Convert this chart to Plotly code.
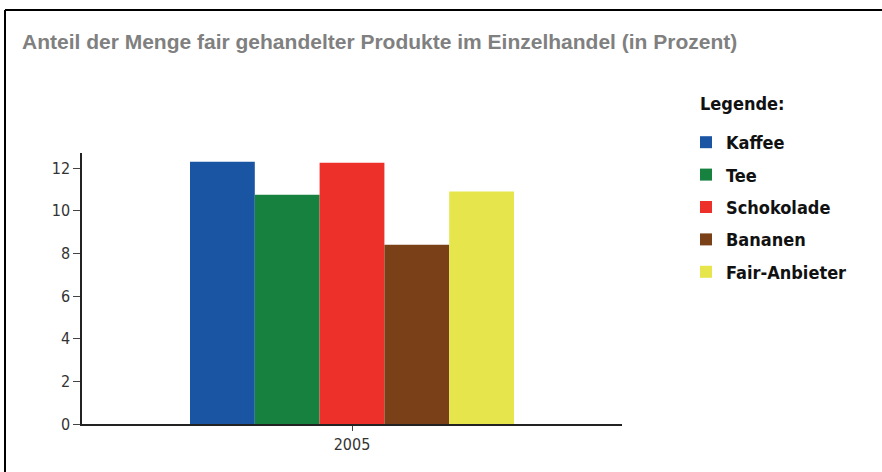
import plotly.graph_objects as go

categories = ["2005"]
series_names = ["Kaffee", "Tee", "Schokolade", "Bananen", "Fair-Anbieter"]
series_values = [[12.3], [10.75], [12.25], [8.4], [10.9]]
series_colors = ["#1A55A4", "#178240", "#EE302A", "#7A4018", "#E6E54B"]
y_ticks = [0, 2, 4, 6, 8, 10, 12]

W, H = 882, 472
L, R, T, B = 82, 260, 153, 48
pw = W - L - R
ph = H - T - B

fig = go.Figure()
for i, (name, vals, col) in enumerate(zip(series_names, series_values, series_colors)):
    fig.add_trace(go.Bar(
        x=categories, y=vals, name=name,
        marker=dict(color=col, line=dict(width=0)),
        legendgroup=name,
    ))

def px_x(x):
    return (x - L) / pw

def px_y(y):
    return (H - B - y) / ph

narrow = "DejaVu Sans Condensed, Liberation Sans Narrow, Arial Narrow, sans-serif"
tick_font = dict(family=narrow, size=16, color="#333333")
legend_font = dict(family=narrow, size=18, color="#111111")

fig.update_layout(
    width=W, height=H,
    margin=dict(l=L, r=R, t=T, b=B, autoexpand=False),
    paper_bgcolor="white", plot_bgcolor="white",
    barmode="group", bargap=0.4, bargroupgap=0,
    showlegend=True,
    title=dict(
        text="<b>Anteil der Menge fair gehandelter Produkte im Einzelhandel (in Prozent)</b>",
        x=22 / W, xanchor="left", xref="container",
        y=1 - 42 / H, yanchor="middle", yref="container",
        font=dict(family="Liberation Sans, Arial, sans-serif", size=21, color="#808080"),
    ),
    legend=dict(
        font=dict(family=narrow, size=18, color="#111111", weight="bold"),
        x=px_x(686), xanchor="left", y=px_y(124), yanchor="top",
        tracegroupgap=6, traceorder="grouped",
        bgcolor="rgba(0,0,0,0)",
    ),
    annotations=[
        dict(text="<b>Legende:</b>", xref="paper", yref="paper",
             x=px_x(698), y=px_y(103), xanchor="left", yanchor="middle",
             showarrow=False, font=legend_font),
    ],
    xaxis=dict(
        type="category", range=[-0.5, 0.5],
        showline=True, linecolor="#222222", linewidth=2,
        ticks="outside", ticklen=5, tickcolor="#444444", tickwidth=1,
        tickfont=tick_font, showgrid=False, zeroline=False,
    ),
    yaxis=dict(
        range=[0, ph / 21.33], tickvals=y_ticks,
        showline=True, linecolor="#222222", linewidth=1.5,
        ticks="outside", ticklen=7, tickcolor="#444444", tickwidth=1,
        tickfont=tick_font, showgrid=False, zeroline=False,
    ),
    shapes=[
        dict(type="line", xref="paper", yref="paper",
             x0=px_x(5), x1=px_x(882), y0=px_y(10), y1=px_y(10),
             line=dict(color="black", width=2)),
        dict(type="line", xref="paper", yref="paper",
             x0=px_x(5), x1=px_x(5), y0=px_y(10), y1=px_y(472),
             line=dict(color="black", width=2)),
    ],
)

fig.write_html("out.html", config={"displayModeBar": False},
               post_script="document.body.style.margin='0';document.body.style.overflow='hidden';")
